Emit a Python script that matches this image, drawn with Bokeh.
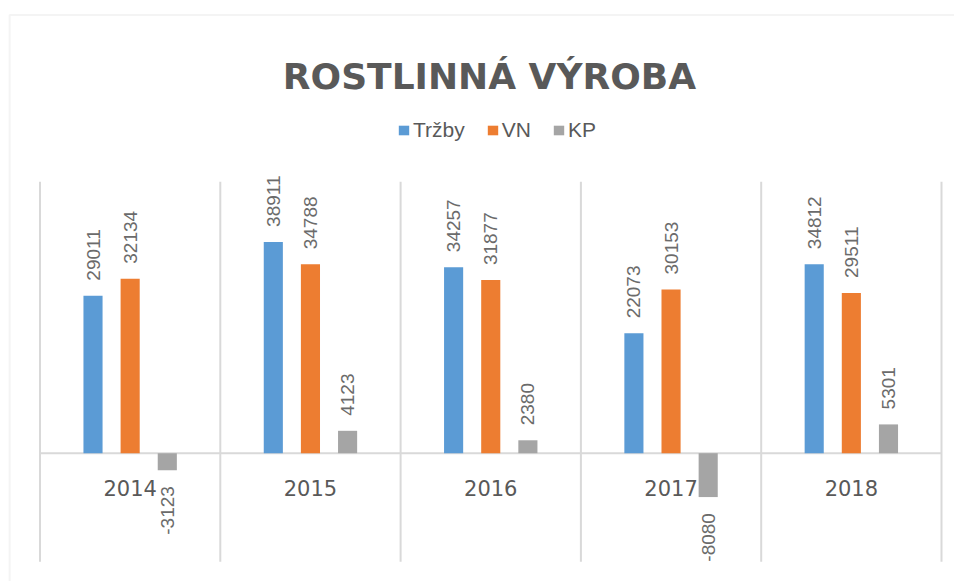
import numpy as np
from bokeh.plotting import figure
from bokeh.models import ColumnDataSource, Range1d, Legend, LegendItem, Label, BoxAnnotation
from bokeh.core.properties import value
from bokeh.embed import file_html
from bokeh.resources import INLINE

# ---------------- data ----------------
title_text = "ROSTLINNÁ VÝROBA"
categories = ["2014", "2015", "2016", "2017", "2018"]
series_names = ["Tržby", "VN", "KP"]
trzby = [29011, 38911, 34257, 22073, 34812]
vn = [32134, 34788, 31877, 30153, 29511]
kp = [-3123, 4123, 2380, -8080, 5301]
value_min, value_max = -20000, 50000   # plot-area value range

# ---------------- geometry / style ----------------
W, H = 954, 581
px_per_cat = 180.3
frame_left_px = 39.5
zero_px = 452.7
px_per_unit = 0.00543

x_start = -frame_left_px / px_per_cat
x_end = (W - frame_left_px) / px_per_cat
y_end = zero_px / px_per_unit
y_start = -(H - zero_px) / px_per_unit

colors = ["#5B9BD5", "#ED7D31", "#A5A5A5"]
offsets = [-0.206, 0.0, 0.206]
bar_width = 0.106
grid_color = "#D9D9D9"
text_color = "#595959"

p = figure(width=W, height=H, x_range=Range1d(x_start, x_end),
           y_range=Range1d(y_start, y_end), output_backend="svg",
           toolbar_location=None, x_axis_location=None, y_axis_location=None,
           min_border=0, outline_line_color=None, background_fill_color="white",
           border_fill_color="white")
p.grid.visible = False

# chart-area border (left and top edges visible)
p.add_layout(BoxAnnotation(left=x_start + 9.2 / px_per_cat, top=y_end - 14.5 / px_per_unit,
                           right=x_end + 1.0, bottom=y_start - 50000,
                           fill_alpha=0, line_color=grid_color, line_width=2))

n = len(categories)
xc = np.arange(n) + 0.5
bounds = np.arange(n + 1)

# vertical category separators
p.segment(x0=bounds, x1=bounds, y0=[value_min] * (n + 1), y1=[value_max] * (n + 1),
          line_color=grid_color, line_width=2)
# category axis line at zero
p.segment(x0=[0], x1=[n], y0=[0], y1=[0], line_color=grid_color, line_width=2)

renderers = []
for name, vals, off, col in zip(series_names, [trzby, vn, kp], offsets, colors):
    src = ColumnDataSource(dict(x=xc + off, top=vals))
    r = p.vbar(x="x", top="top", bottom=0, width=bar_width, fill_color=col,
               line_color=None, source=src)
    renderers.append(r)
    vals = np.array(vals)
    pos = vals >= 0
    neg = ~pos
    if pos.any():
        p.text(x=(xc + off)[pos], y=vals[pos], text=[str(v) for v in vals[pos]],
               angle=np.pi / 2, text_align="left", text_baseline="middle",
               y_offset=-15, text_font=value("Liberation Sans"),
               text_font_size="19px", text_color="#6B6B6B")
    if neg.any():
        p.text(x=(xc + off)[neg], y=vals[neg], text=[str(v) for v in vals[neg]],
               angle=np.pi / 2, text_align="right", text_baseline="middle",
               y_offset=16, text_font=value("Liberation Sans"),
               text_font_size="19px", text_color="#6B6B6B")

# category labels
p.text(x=xc, y=[0] * n, text=categories, text_align="center",
       text_baseline="alphabetic", y_offset=35, text_font=value("DejaVu Sans"),
       text_font_size="21px", text_color=text_color)

# title
p.add_layout(Label(x=489, y=H - 76, x_units="screen", y_units="screen",
                   text=title_text, text_align="center", text_baseline="alphabetic",
                   text_font="DejaVu Sans", text_font_style="bold",
                   text_font_size="36px", text_color=text_color))

legend = Legend(items=[LegendItem(label=nm, renderers=[r]) for nm, r in zip(series_names, renderers)],
                orientation="horizontal", location=(397, H - 130 - 12),
                glyph_width=13, glyph_height=12, label_standoff=3, spacing=21,
                padding=0, margin=0, background_fill_alpha=0, border_line_color=None,
                label_text_font="Liberation Sans", label_text_font_size="21px",
                label_text_color=text_color, label_height=12)
p.add_layout(legend)

open("out.html", "w").write(file_html(p, INLINE))
